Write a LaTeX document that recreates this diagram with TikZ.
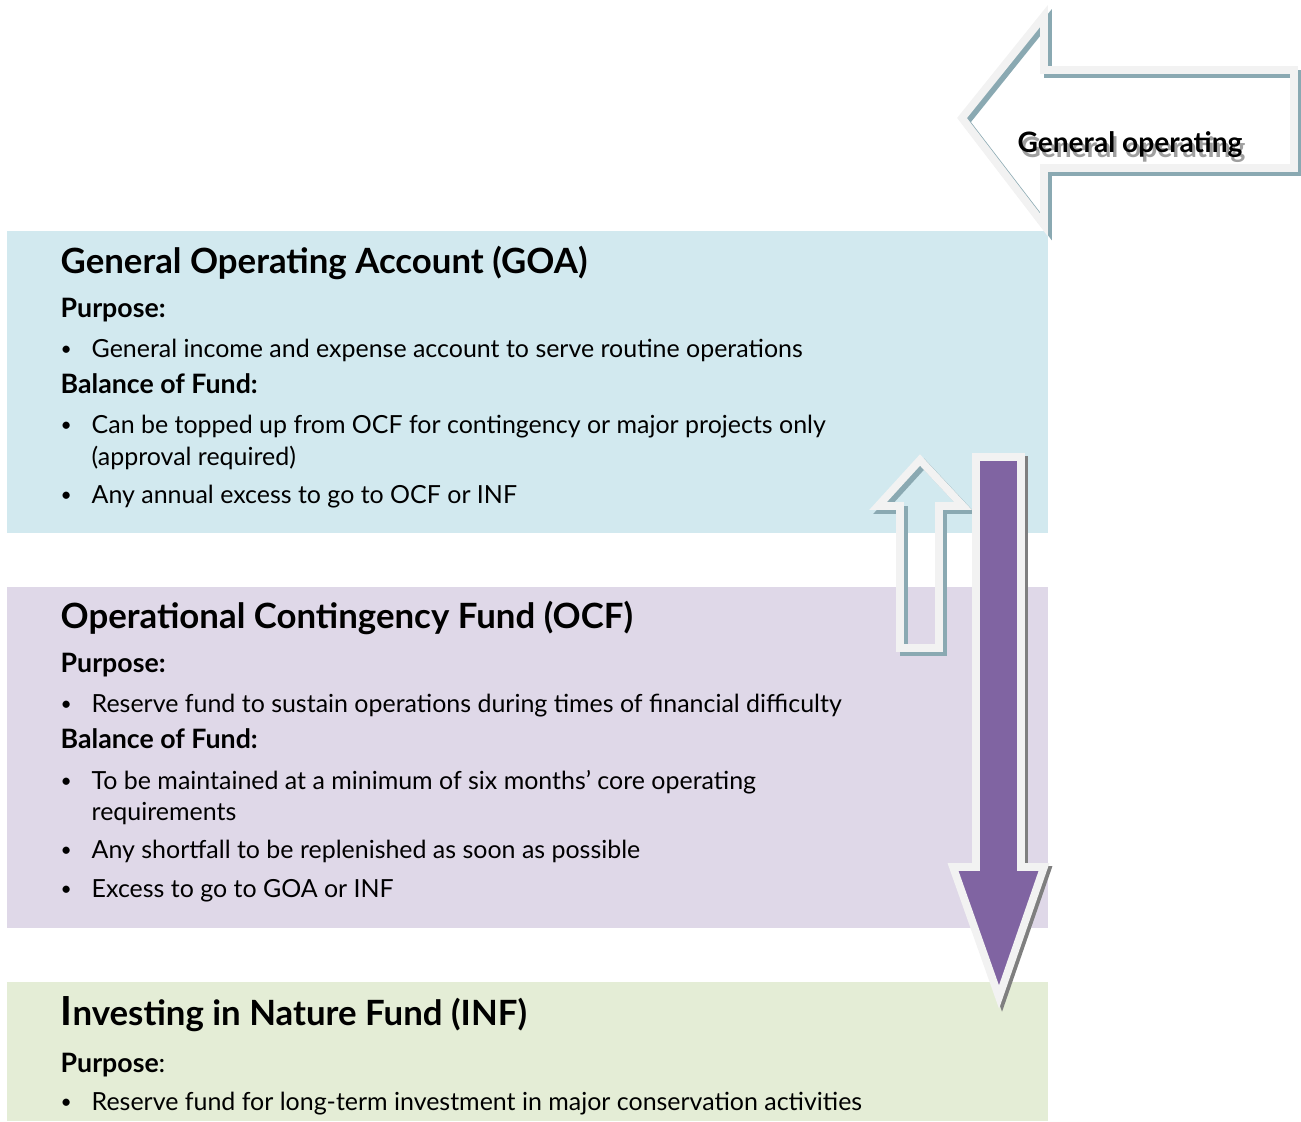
\documentclass[tikz,border=0pt]{standalone}
\usepackage{fontspec}
\setmainfont{Lato}
\usepackage{tikz}
\usetikzlibrary{calc}

\definecolor{goablue}{HTML}{D2E9EF}
\definecolor{ocflilac}{HTML}{DFD8E8}
\definecolor{infgreen}{HTML}{E4EDD6}
\definecolor{flowpurple}{HTML}{8064A2}
\definecolor{rimgray}{HTML}{F2F2F2}
\definecolor{tealshadow}{HTML}{8AA9B2}
\definecolor{darkshadow}{HTML}{7F7F7F}

\newcommand{\bodyfont}{\fontsize{7.1}{8}\selectfont}
\newcommand{\subfont}{\fontsize{7.6}{8}\selectfont\bfseries}
\newcommand{\headfont}{\fontsize{9.9}{11}\selectfont\bfseries}

% arrow outlines (pixel units, y downwards)
\newcommand{\backarrow}{(962,118) -- (1044,16) -- (1044,70) -- (1294,70) -- (1294,168) -- (1044,168) -- (1044,225) -- cycle}
\newcommand{\uparrowpath}{(920,460) -- (963,506) -- (939,506) -- (939,648) -- (900,648) -- (900,506) -- (878,506) -- cycle}
\newcommand{\downarrowpath}{(976,457) -- (1021,457) -- (1021,867) -- (1044,867) -- (999,997) -- (953,867) -- (976,867) -- cycle}

\begin{document}
\begin{tikzpicture}[x=0.1mm, y=-0.1mm,
    fundtitle/.style={anchor=base west, inner sep=0pt, font=\headfont},
    subhead/.style={anchor=base west, inner sep=0pt, font=\subfont},
    item/.style={anchor=base west, inner sep=0pt, font=\bodyfont},
    rim/.style={draw=rimgray, line width=2.2pt, line join=miter}]
    \useasboundingbox (0,0) rectangle (1301,1121);

    % Boxes
    \fill[goablue] (7,231) rectangle (1048,533);
    \fill[ocflilac] (7,587) rectangle (1048,928);
    \fill[infgreen] (7,982) rectangle (1048,1121);

    % General operating arrow
    \fill[white] \backarrow;
    \draw[tealshadow, line width=2.2pt, line join=miter, shift={(4,4)}] \backarrow;
    \draw[rim] \backarrow;
    \node[anchor=base, inner sep=0pt, font=\fontsize{8}{9}\selectfont\bfseries, text=gray!75] (opshadow) at (1133,157) {General operating};
    \node[anchor=base, inner sep=0pt, font=\fontsize{8}{9}\selectfont\bfseries] (optext) at (1130,152) {General operating};

    % Up arrow OCF -> GOA
    \draw[tealshadow, line width=2.2pt, line join=miter, shift={(4,4)}] \uparrowpath;
    \draw[rim] \uparrowpath;

    % Down arrow to INF
    \filldraw[darkshadow, line width=2.2pt, line join=miter, shift={(3,3)}] \downarrowpath;
    \filldraw[rim, fill=flowpurple] \downarrowpath;

    % GOA
    \node[fundtitle] (goa) at (60,273) {General Operating Account (GOA)};
    \node[subhead] (goaPurp) at (60,317) {Purpose:};
    \node[item] (goaP1) at (91,357) {General income and expense account to serve routine operations};
    \node[subhead] (goaBal) at (60,393) {Balance of Fund:};
    \node[item] (goaB1) at (91,433) {Can be topped up from OCF for contingency or major projects only};
    \node[item] (goaB1b) at (91,465) {(approval required)};
    \node[item] (goaB2) at (91,503) {Any annual excess to go to OCF or INF};

    % OCF
    \node[fundtitle] (ocf) at (60,628) {Operational Contingency Fund (OCF)};
    \node[subhead] (ocfPurp) at (60,672) {Purpose:};
    \node[item] (ocfP1) at (91,712) {Reserve fund to sustain operations during times of financial difficulty};
    \node[subhead] (ocfBal) at (60,748) {Balance of Fund:};
    \node[item] (ocfB1) at (91,789) {To be maintained at a minimum of six months’ core operating};
    \node[item] (ocfB1b) at (91,820) {requirements};
    \node[item] (ocfB2) at (91,858) {Any shortfall to be replenished as soon as possible};
    \node[item] (ocfB3) at (91,897) {Excess to go to GOA or INF};

    % INF
    \node[fundtitle] (inf) at (60,1025) {{\fontsize{11.4}{12}\selectfont I}nvesting in Nature Fund (INF)};
    \node[subhead] (infPurp) at (60,1072) {Purpose\mdseries:};
    \node[item] (infP1) at (91,1110) {Reserve fund for long-term investment in major conservation activities};

    % Bullets
    \foreach \y in {357,433,503,712,789,858,897,1110}
        \node[item, font=\fontsize{5.5}{6}\selectfont] (dot\y) at (60,\y-2) {•};
\end{tikzpicture}
\end{document}
